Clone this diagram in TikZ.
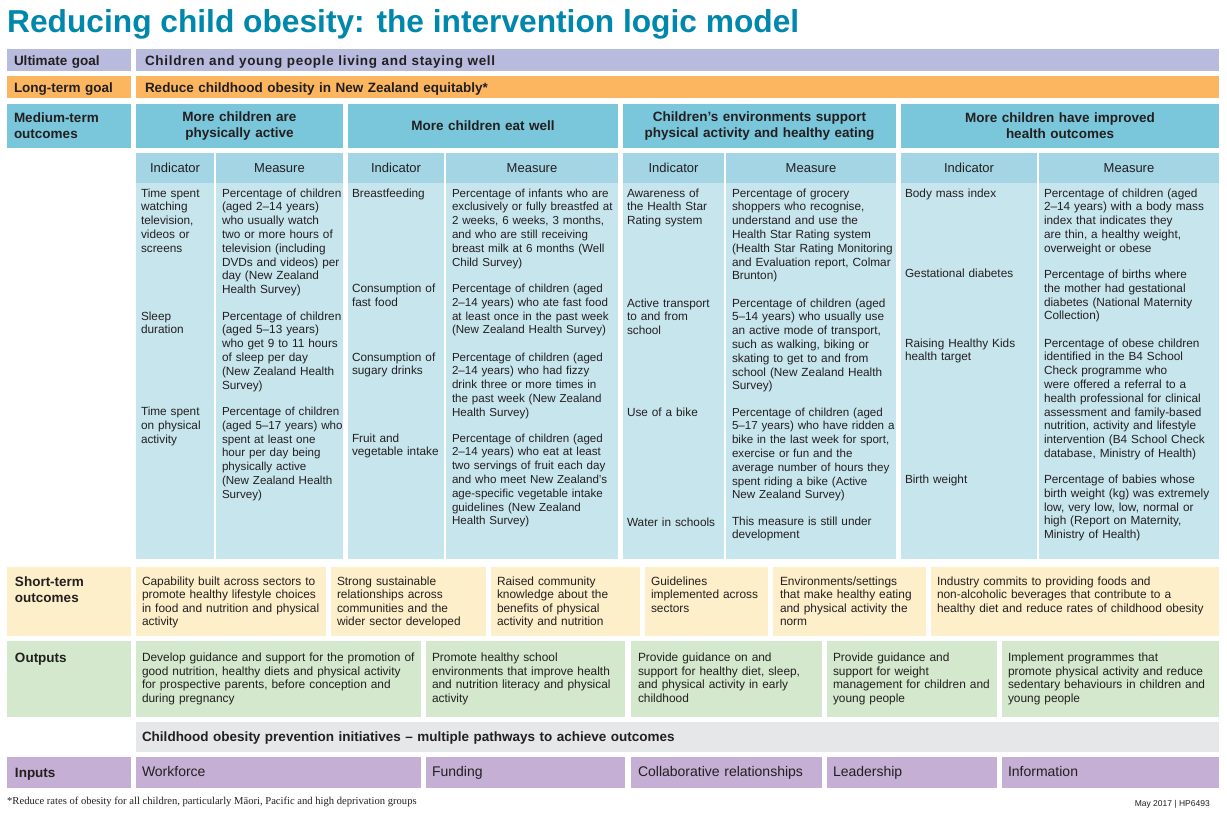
\documentclass[tikz,border=0pt]{standalone}
\usepackage{fontspec}
\setmainfont{Liberation Sans}
\newfontfamily\footserif{Liberation Serif}
\definecolor{titleblue}{RGB}{0,136,172}
\definecolor{ink}{RGB}{35,31,32}
\definecolor{ugcol}{RGB}{184,187,222}
\definecolor{ltcol}{RGB}{251,182,95}
\definecolor{mtcol}{RGB}{122,198,218}
\definecolor{hdcol}{RGB}{163,213,228}
\definecolor{bdcol}{RGB}{199,229,236}
\definecolor{stcol}{RGB}{253,239,201}
\definecolor{opcol}{RGB}{212,232,205}
\definecolor{grcol}{RGB}{230,231,232}
\definecolor{incol}{RGB}{197,175,213}
\tikzset{
  txt/.style={inner sep=0pt, outer sep=0pt, text=ink, anchor=base west, align=left, text width=700pt},
  body/.style={txt, font=\fontsize{11.8}{13.8}\selectfont},
  bodyn/.style={txt, font=\fontsize{11.6}{13.8}\selectfont},
  box/.style={txt, font=\fontsize{11.9}{13.6}\selectfont},
  lab/.style={txt, font=\fontsize{13.5}{16}\selectfont\bfseries},
  head/.style={inner sep=0pt, text=ink, anchor=center, align=center, text width=300pt, font=\fontsize{13.5}{16}\selectfont\bfseries},
  colhead/.style={inner sep=0pt, text=ink, anchor=center, font=\fontsize{13}{15}\selectfont},
  inp/.style={txt, font=\fontsize{14}{16}\selectfont},
}
\begin{document}
\begin{tikzpicture}[x=1pt,y=-1pt]
\useasboundingbox[fill=white] (0,0) rectangle (1227,815);
% title
\node[anchor=base west, inner sep=0pt, text=titleblue, font=\fontsize{31.7}{36}\selectfont\bfseries] (title) at (7,32) {Reducing child obesity: the intervention logic model};
% ---- goal rows
\fill[ugcol] (7,49) rectangle (131,71);
\fill[ugcol] (136,49) rectangle (1219,71);
\fill[ltcol] (7,76) rectangle (131,98);
\fill[ltcol] (136,76) rectangle (1219,98);
\node[lab] (ugl) at (14,65.5) {Ultimate goal};
\node[lab, font=\fontsize{13.5}{16}\selectfont\bfseries\addfontfeature{LetterSpace=5.2}] (ugt) at (145,65.5) {Children and young people living and staying well};
\node[lab] (ltl) at (14,92) {Long-term goal};
\node[lab] (ltt) at (145,92) {Reduce childhood obesity in New Zealand equitably*};
% ---- medium-term
\fill[mtcol] (7,104) rectangle (131,148);
\fill[mtcol] (136,104) rectangle (343,148);
\fill[mtcol] (348,104) rectangle (618,148);
\fill[mtcol] (623,104) rectangle (896,148);
\fill[mtcol] (901,104) rectangle (1219,148);
\node[lab] (mtl) at (14,122) {Medium-term\\outcomes};
\node[head] (mt1) at (239.5,126) {More children are\\physically active};
\node[head] (mt2) at (483,126) {More children eat well};
\node[head] (mt3) at (759.5,126) {Children’s environments support\\physical activity and healthy eating};
\node[head] (mt4) at (1060,126) {More children have improved\\health outcomes};
% ---- indicator / measure columns
\foreach \a/\b in {136/214,216/343,348/444,446/618,623/724,726/896,901/1037,1039/1219}{
  \fill[hdcol] (\a,153) rectangle (\b,183);
  \fill[bdcol] (\a,183) rectangle (\b,559);
}
\node[colhead] (h1i) at (175,168) {Indicator};
\node[colhead] (h1m) at (279.5,168) {Measure};
\node[colhead] (h2i) at (396,168) {Indicator};
\node[colhead] (h2m) at (532,168) {Measure};
\node[colhead] (h3i) at (673.5,168) {Indicator};
\node[colhead] (h3m) at (811,168) {Measure};
\node[colhead] (h4i) at (969,168) {Indicator};
\node[colhead] (h4m) at (1129,168) {Measure};
% group 1
\node[body] (g1i1) at (141,197) {Time spent\\watching\\television,\\videos or\\screens};
\node[body] (g1m1) at (222,197) {Percentage of children\\(aged 2–14 years)\\who usually watch\\two or more hours of\\television (including\\DVDs and videos) per\\day (New Zealand\\Health Survey)};
\node[body] (g1i2) at (141,320) {Sleep\\duration};
\node[body] (g1m2) at (222,320) {Percentage of children\\(aged 5–13 years)\\who get 9 to 11 hours\\of sleep per day\\(New Zealand Health\\Survey)};
\node[body] (g1i3) at (141,415.5) {Time spent\\on physical\\activity};
\node[bodyn] (g1m3) at (222,415.5) {Percentage of children\\(aged 5–17 years) who\\spent at least one\\hour per day being\\physically active\\(New Zealand Health\\Survey)};
% group 2
\node[body] (g2i1) at (352,197) {Breastfeeding};
\node[bodyn] (g2m1) at (452,197) {Percentage of infants who are\\exclusively or fully breastfed at\\2 weeks, 6 weeks, 3 months,\\and who are still receiving\\breast milk at 6 months (Well\\Child Survey)};
\node[body] (g2i2) at (352,292.5) {Consumption of\\fast food};
\node[bodyn] (g2m2) at (452,292.5) {Percentage of children (aged\\2–14 years) who ate fast food\\at least once in the past week\\(New Zealand Health Survey)};
\node[body] (g2i3) at (352,361) {Consumption of\\sugary drinks};
\node[bodyn] (g2m3) at (452,361) {Percentage of children (aged\\2–14 years) who had fizzy\\drink three or more times in\\the past week (New Zealand\\Health Survey)};
\node[body] (g2i4) at (352,442) {Fruit and\\vegetable intake};
\node[bodyn] (g2m4) at (452,442) {Percentage of children (aged\\2–14 years) who eat at least\\two servings of fruit each day\\and who meet New Zealand’s\\age-specific vegetable intake\\guidelines (New Zealand\\Health Survey)};
% group 3
\node[body] (g3i1) at (627,197) {Awareness of\\the Health Star\\Rating system};
\node[body] (g3m1) at (732,197) {Percentage of grocery\\shoppers who recognise,\\understand and use the\\Health Star Rating system\\(Health Star Rating Monitoring\\and Evaluation report, Colmar\\Brunton)};
\node[body] (g3i2) at (627,307) {Active transport\\to and from\\school};
\node[body] (g3m2) at (732,307) {Percentage of children (aged\\5–14 years) who usually use\\an active mode of transport,\\such as walking, biking or\\skating to get to and from\\school (New Zealand Health\\Survey)};
\node[body] (g3i3) at (627,416) {Use of a bike};
\node[bodyn] (g3m3) at (732,416) {Percentage of children (aged\\5–17 years) who have ridden a\\bike in the last week for sport,\\exercise or fun and the\\average number of hours they\\spent riding a bike (Active\\New Zealand Survey)};
\node[body] (g3i4) at (627,526) {Water in schools};
\node[body] (g3m4) at (732,525) {This measure is still under\\development};
% group 4
\node[body] (g4i1) at (905,197) {Body mass index};
\node[body] (g4m1) at (1044,197) {Percentage of children (aged\\2–14 years) with a body mass\\index that indicates they\\are thin, a healthy weight,\\overweight or obese};
\node[body] (g4i2) at (905,277.5) {Gestational diabetes};
\node[body] (g4m2) at (1044,278.5) {Percentage of births where\\the mother had gestational\\diabetes (National Maternity\\Collection)};
\node[body] (g4i3) at (905,347) {Raising Healthy Kids\\health target};
\node[body] (g4m3) at (1044,347) {Percentage of obese children\\identified in the B4 School\\Check programme who\\were offered a referral to a\\health professional for clinical\\assessment and family-based\\nutrition, activity and lifestyle\\intervention (B4 School Check\\database, Ministry of Health)};
\node[body] (g4i4) at (905,483.5) {Birth weight};
\node[body] (g4m4) at (1044,483.5) {Percentage of babies whose\\birth weight (kg) was extremely\\low, very low, low, normal or\\high (Report on Maternity,\\Ministry of Health)};
% ---- short-term outcomes
\foreach \a/\b in {7/131,136/326,331/486,491/640,645/768,773/926,931/1219}{
  \fill[stcol] (\a,567) rectangle (\b,636);
}
\node[lab] (stl) at (15,586) {Short-term\\outcomes};
\node[box] (st1) at (142,585) {Capability built across sectors to\\promote healthy lifestyle choices\\in food and nutrition and physical\\activity};
\node[box] (st2) at (337,585) {Strong sustainable\\relationships across\\communities and the\\wider sector developed};
\node[box] (st3) at (497,585) {Raised community\\knowledge about the\\benefits of physical\\activity and nutrition};
\node[box] (st4) at (651,585) {Guidelines\\implemented across\\sectors};
\node[box] (st5) at (780,585) {Environments/settings\\that make healthy eating\\and physical activity the\\norm};
\node[box] (st6) at (937,585) {Industry commits to providing foods and\\non-alcoholic beverages that contribute to a\\healthy diet and reduce rates of childhood obesity};
% ---- outputs
\foreach \a/\b in {7/131,136/421,426/625,631/822,827/997,1002/1219}{
  \fill[opcol] (\a,641) rectangle (\b,717);
}
\node[lab] (opl) at (15,662.5) {Outputs};
\node[box] (op1) at (142,661.5) {Develop guidance and support for the promotion of\\good nutrition, healthy diets and physical activity\\for prospective parents, before conception and\\during pregnancy};
\node[box] (op2) at (432,661.5) {Promote healthy school\\environments that improve health\\and nutrition literacy and physical\\activity};
\node[box] (op3) at (638,661.5) {Provide guidance on and\\support for healthy diet, sleep,\\and physical activity in early\\childhood};
\node[box] (op4) at (833,661.5) {Provide guidance and\\support for weight\\management for children and\\young people};
\node[box] (op5) at (1008,661.5) {Implement programmes that\\promote physical activity and reduce\\sedentary behaviours in children and\\young people};
% ---- initiatives bar
\fill[grcol] (136,722) rectangle (1219,752);
\node[lab] (ini) at (142,741) {Childhood obesity prevention initiatives – multiple pathways to achieve outcomes};
% ---- inputs
\foreach \a/\b in {7/131,136/421,426/625,631/822,827/997,1002/1219}{
  \fill[incol] (\a,757) rectangle (\b,788);
}
\node[lab] (inl) at (15,777) {Inputs};
\node[inp] (in1) at (142,776.5) {Workforce};
\node[inp] (in2) at (432,776.5) {Funding};
\node[inp] (in3) at (638,776.5) {Collaborative relationships};
\node[inp] (in4) at (833,776.5) {Leadership};
\node[inp] (in5) at (1008,776.5) {Information};
% ---- footer
\node[anchor=base west, inner sep=0pt, text=ink, font=\footserif\fontsize{10.6}{12}\selectfont] (foot) at (7,804.5) {*Reduce rates of obesity for all children, particularly Māori, Pacific and high deprivation groups};
\node[anchor=base east, inner sep=0pt, text=ink, font=\fontsize{8.5}{10}\selectfont] (date) at (1210,806) {May 2017 | HP6493};
\end{tikzpicture}
\end{document}
